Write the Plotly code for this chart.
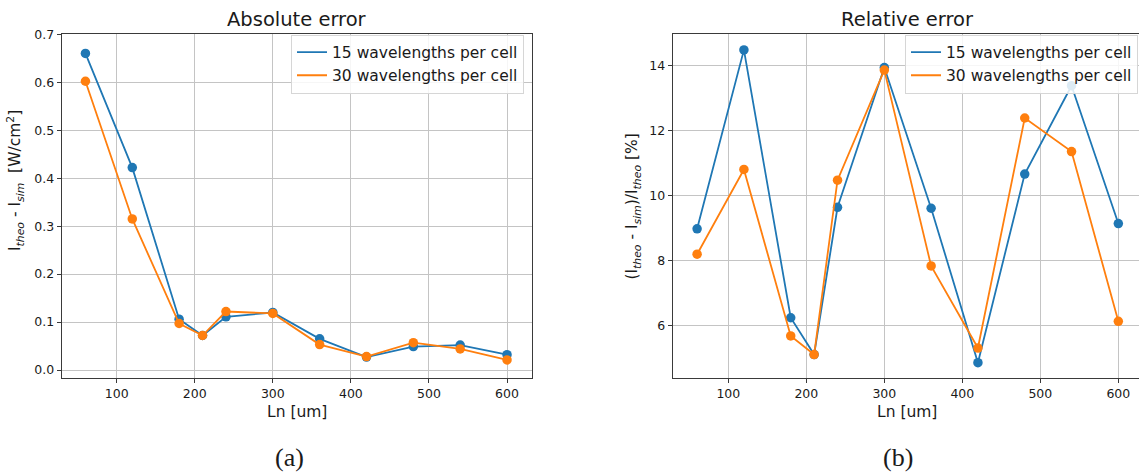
import plotly.graph_objects as go

# cell length values (x) shared by both panels
ln_um = [60, 120, 180, 210, 240, 300, 360, 420, 480, 540, 600]

# absolute error [W/cm2]
abs_15 = [0.660, 0.422, 0.106, 0.072, 0.111, 0.120, 0.065, 0.027, 0.049, 0.052, 0.032]
abs_30 = [0.602, 0.315, 0.097, 0.072, 0.122, 0.118, 0.053, 0.028, 0.057, 0.044, 0.021]

# relative error [%]
rel_15 = [8.98, 14.47, 6.25, 5.12, 9.64, 13.93, 9.61, 4.87, 10.66, 13.37, 9.14]
rel_30 = [8.20, 10.80, 5.69, 5.12, 10.47, 13.85, 7.84, 5.32, 12.38, 11.35, 6.14]

series_names = ["15 wavelengths per cell", "30 wavelengths per cell"]
colors = ["#1f77b4", "#ff7f0e"]

W, H = 1139, 474
FONT = "DejaVu Sans"
TXT = "#1a1a1a"


def px_x(p):
    return p / W


def px_y(p):
    return 1 - p / H


fig = go.Figure()

panels = [
    ("x", "y", "legend", [abs_15, abs_30]),
    ("x2", "y2", "legend2", [rel_15, rel_30]),
]
for xa, ya, leg, data in panels:
    for vals, name, col in zip(data, series_names, colors):
        fig.add_trace(go.Scatter(x=ln_um, y=vals, xaxis=xa, yaxis=ya,
                                 mode="lines+markers", showlegend=False,
                                 line=dict(color=col, width=1.8),
                                 marker=dict(color=col, size=9.5)))
        # legend entry with only a line, like matplotlib
        fig.add_trace(go.Scatter(x=[None], y=[None], xaxis=xa, yaxis=ya,
                                 mode="lines", name=name, legend=leg,
                                 line=dict(color=col, width=1.8)))

grid = "#c4c4c4"
frame = "#3a3a3a"
common = dict(showgrid=True, gridcolor=grid, gridwidth=1, zeroline=False,
              showline=True, linecolor=frame, linewidth=1.2,
              ticks="outside", ticklen=4, tickcolor=frame,
              tickfont=dict(family=FONT, size=12.5, color=TXT))

ydom = [px_y(376.7), px_y(26.7)]
leg_style = dict(xanchor="right", yanchor="top",
                 bgcolor="rgba(255,255,255,0.85)", bordercolor="#d6d6d6",
                 borderwidth=1, font=dict(family=FONT, size=15.5, color=TXT),
                 itemwidth=30, tracegroupgap=0)

fig.update_layout(
    width=W, height=H,
    margin=dict(l=0, r=0, t=0, b=0),
    paper_bgcolor="white", plot_bgcolor="white",
    font=dict(family=FONT, color=TXT),
    xaxis=dict(domain=[px_x(61.7), px_x(531.7)], range=[29.6, 631.6],
               tickvals=[100, 200, 300, 400, 500, 600], anchor="y",
               mirror=True, **common),
    yaxis=dict(domain=ydom, range=[-0.0173, 0.7], dtick=0.1, tickformat=".1f",
               anchor="x", mirror=True, **common),
    xaxis2=dict(domain=[px_x(672.7), 1.0], range=[28.7, 626.5],
                tickvals=[100, 200, 300, 400, 500, 600], anchor="y2",
                mirror=True, **common),
    yaxis2=dict(domain=ydom, range=[4.39, 14.95], tickvals=[6, 8, 10, 12, 14],
                anchor="x2", mirror=False, **common),
    legend=dict(x=px_x(524), y=px_y(27), **leg_style),
    legend2=dict(x=px_x(1138), y=px_y(27), **leg_style),
)

annotations = [
    dict(text="Absolute error", x=px_x(296.7), y=px_y(12), font=dict(size=19.5)),
    dict(text="Relative error", x=px_x(907), y=px_y(12), font=dict(size=19.5)),
    dict(text="Ln [um]", x=px_x(296.7), y=px_y(411), font=dict(size=15.5)),
    dict(text="Ln [um]", x=px_x(906.7), y=px_y(411), font=dict(size=15.5)),
    dict(text="I<sub><i>theo</i></sub> - I<sub><i>sim</i></sub>\u00a0 [W/cm<sup>2</sup>]",
         x=px_x(15), y=px_y(176), textangle=-90, font=dict(size=15.5)),
    dict(text="(I<sub><i>theo</i></sub> - I<sub><i>sim</i></sub>)/I<sub><i>theo</i></sub> [%]",
         x=px_x(633), y=px_y(202), textangle=-90, font=dict(size=15.5)),
    dict(text="(a)", x=px_x(289), y=px_y(457),
         font=dict(family="Liberation Serif", size=26)),
    dict(text="(b)", x=px_x(898), y=px_y(457),
         font=dict(family="Liberation Serif", size=26)),
]
for a in annotations:
    a.update(xref="paper", yref="paper", showarrow=False,
             xanchor="center", yanchor="middle")
    a["font"].setdefault("family", FONT)
    a["font"]["color"] = TXT
fig.update_layout(annotations=annotations)

# drop the browser's default page margin so the figure sits at the corner
fig.write_html("out.html", config={"displayModeBar": False},
               post_script="document.body.style.margin='0px';")
